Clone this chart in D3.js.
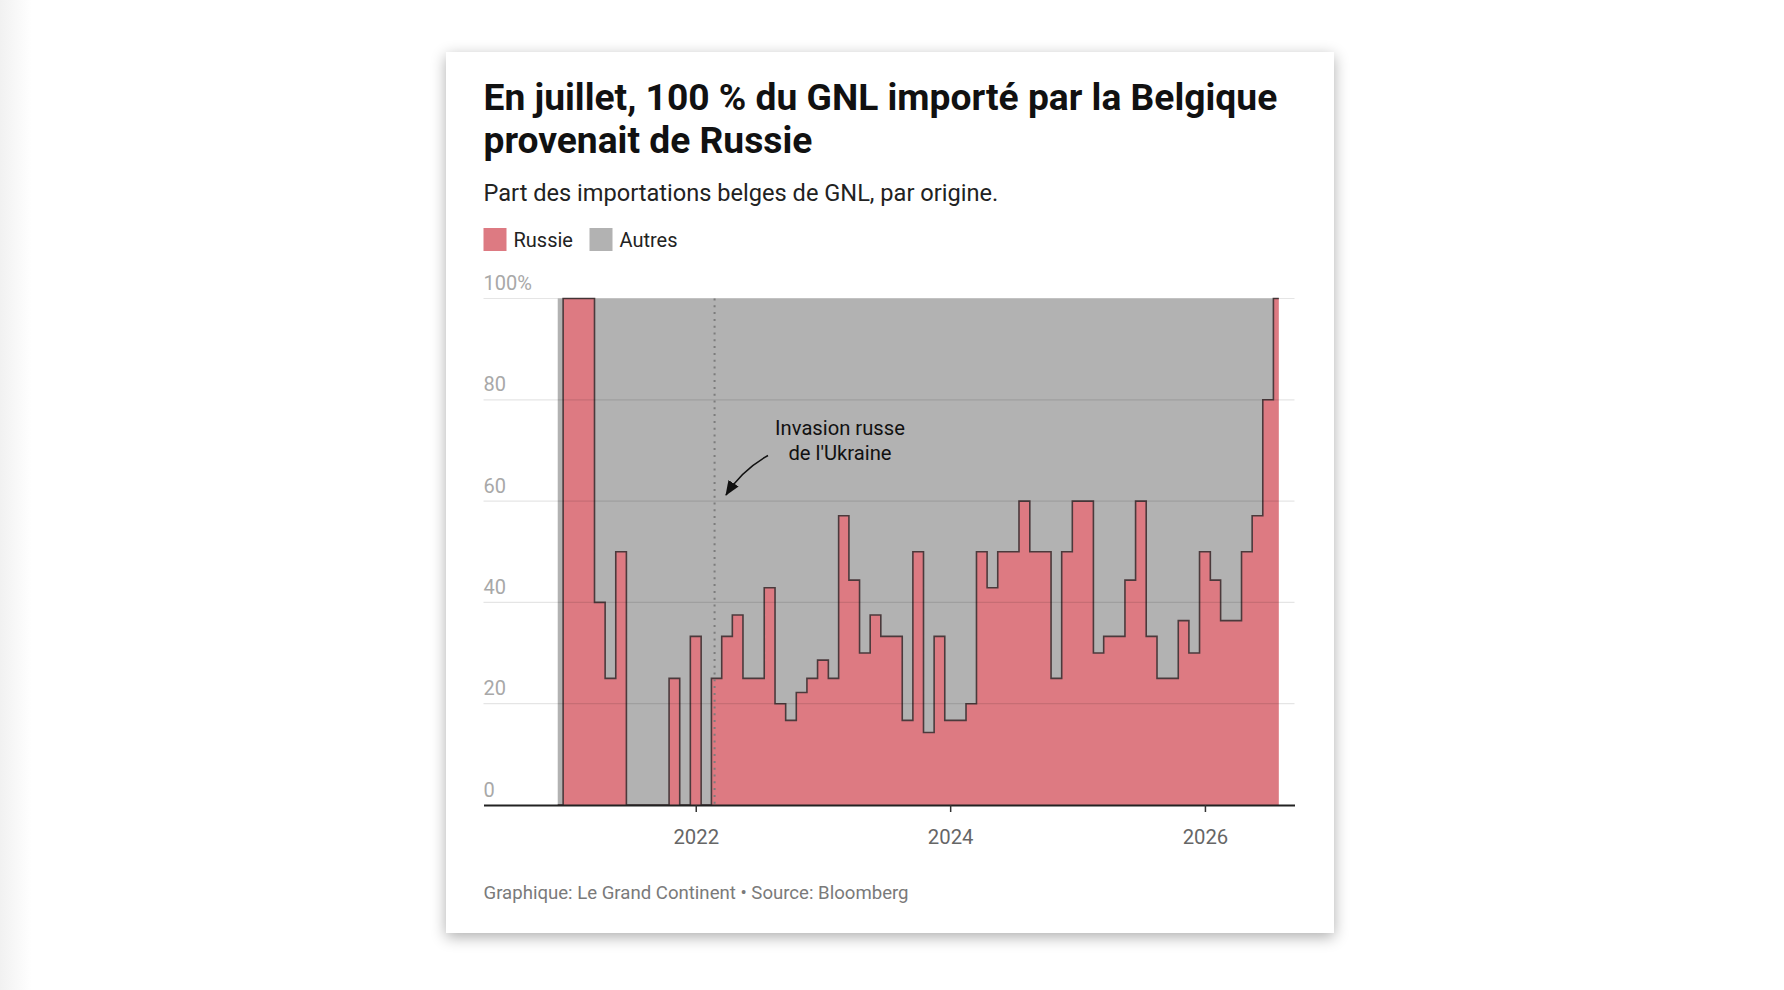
<!DOCTYPE html>
<html>
<head>
<meta charset="utf-8">
<script src="https://cdn.jsdelivr.net/npm/d3@7"></script>
<style>
  html, body { margin: 0; padding: 0; }
  body {
    width: 1784px; height: 990px; overflow: hidden;
    background: linear-gradient(to right, #f1f1f1 0, #fff 32px);
    font-family: Roboto, "Noto Sans", sans-serif;
  }
  #card {
    position: absolute; left: 446px; top: 52px;
    width: 888px; height: 881px; background: #fff;
    box-shadow: 0 4px 14px rgba(0, 0, 0, 0.32);
  }
</style>
</head>
<body>
<div id="card"></div>
<script>
// mois (début de mois) et part de la Russie (%) dans les importations belges de GNL
const mois = [
  "2020-12",
  "2021-01","2021-02","2021-03","2021-04","2021-05","2021-06","2021-07","2021-08","2021-09","2021-10","2021-11","2021-12",
  "2022-01","2022-02","2022-03","2022-04","2022-05","2022-06","2022-07","2022-08","2022-09","2022-10","2022-11","2022-12",
  "2023-01","2023-02","2023-03","2023-04","2023-05","2023-06","2023-07","2023-08","2023-09","2023-10","2023-11","2023-12",
  "2024-01","2024-02","2024-03","2024-04","2024-05","2024-06","2024-07","2024-08","2024-09","2024-10","2024-11","2024-12",
  "2025-01","2025-02","2025-03","2025-04","2025-05","2025-06","2025-07","2025-08","2025-09","2025-10","2025-11","2025-12",
  "2026-01","2026-02","2026-03","2026-04","2026-05","2026-06","2026-07","2026-08"
];
const russie = [
  0,
  100, 100, 100, 40, 25, 50, 0, 0, 0, 0, 25, 0,
  33.3, 0, 25, 33.3, 37.5, 25, 25, 42.9, 20, 16.7, 22.2, 25,
  28.6, 25, 57.1, 44.4, 30, 37.5, 33.3, 33.3, 16.7, 50, 14.3, 33.3,
  16.7, 16.7, 20, 50, 42.9, 50, 50, 60, 50, 50, 25, 50,
  60, 60, 30, 33.3, 33.3, 44.4, 60, 33.3, 25, 25, 36.4, 30,
  50, 44.4, 36.4, 36.4, 50, 57.1, 80, 100
];
const series = ["Russie", "Autres"];
const couleurs = ["#dd7a82", "#b2b2b2"];
const yTicks = [0, 20, 40, 60, 80, 100];
const xTicks = ["2022-01-01", "2024-01-01", "2026-01-01"];
const xDomaine = ["2020-05-02", "2026-09-15"];
const invasion = "2022-02-24";

const W = 888, H = 881;
const mLeft = 37.5, mRight = 848.5, mTop = 246.5, mBottom = 753;

const parseMois = d3.timeParse("%Y-%m");
const parseJour = d3.timeParse("%Y-%m-%d");

const table = mois.map((m, i) => ({
  date: parseMois(m),
  Russie: russie[i],
  Autres: 100 - russie[i]
}));

const x = d3.scaleTime().domain(xDomaine.map(parseJour)).range([mLeft, mRight]);
const y = d3.scaleLinear().domain([0, 100]).range([mBottom, mTop]);

const svg = d3.select("#card").append("svg")
  .attr("width", W)
  .attr("height", H)
  .style("display", "block");

// titre, sous-titre
const titre = svg.append("text")
  .attr("font-size", 37.2)
  .attr("font-weight", 700)
  .attr("fill", "#111");
titre.append("tspan").attr("x", mLeft).attr("y", 58).text("En juillet, 100 % du GNL importé par la Belgique");
titre.append("tspan").attr("x", mLeft).attr("y", 101).text("provenait de Russie");

svg.append("text")
  .attr("x", mLeft).attr("y", 149)
  .attr("font-size", 23.6)
  .attr("fill", "#222")
  .text("Part des importations belges de GNL, par origine.");

// légende
const legende = svg.append("g").attr("transform", `translate(${mLeft},176)`);
const lx = [0, 106];
series.forEach((s, i) => {
  legende.append("rect")
    .attr("x", lx[i]).attr("y", 0)
    .attr("width", 23).attr("height", 23)
    .attr("fill", couleurs[i]);
  legende.append("text")
    .attr("x", lx[i] + 30).attr("y", 19)
    .attr("font-size", 20)
    .attr("fill", "#222")
    .text(s);
});

// aires empilées
const stack = d3.stack().keys(series)(table);

const area = d3.area()
  .curve(d3.curveStep)
  .x(d => x(d.data.date))
  .y0(d => y(d[0]))
  .y1(d => y(d[1]));

svg.append("g")
  .selectAll("path")
  .data(stack)
  .join("path")
  .attr("fill", (d, i) => couleurs[i])
  .attr("d", area);

svg.append("path")
  .datum(table)
  .attr("fill", "none")
  .attr("stroke", "#4b3a3c")
  .attr("stroke-width", 1.6)
  .attr("d", d3.line().curve(d3.curveStep).x(d => x(d.date)).y(d => y(d.Russie)));

// grille
svg.append("g")
  .selectAll("line")
  .data(yTicks.filter(v => v > 0))
  .join("line")
  .attr("x1", mLeft).attr("x2", mRight)
  .attr("y1", d => y(d)).attr("y2", d => y(d))
  .attr("stroke", "rgba(0,0,0,0.1)")
  .attr("stroke-width", 1.2);

svg.append("g")
  .selectAll("text")
  .data(yTicks)
  .join("text")
  .attr("x", mLeft)
  .attr("y", d => y(d) - 8.5)
  .attr("font-size", 20)
  .attr("fill", "#a8a8a8")
  .text(d => d === 100 ? "100%" : d);

// invasion
const xi = x(parseJour(invasion));
svg.append("line")
  .attr("x1", xi).attr("x2", xi)
  .attr("y1", y(100)).attr("y2", y(0))
  .attr("stroke", "#7c7c7c")
  .attr("stroke-width", 2)
  .attr("stroke-dasharray", "2,4.8");

svg.append("defs").append("marker")
  .attr("id", "fleche")
  .attr("viewBox", "0 0 15 12")
  .attr("markerWidth", 15).attr("markerHeight", 12)
  .attr("markerUnits", "userSpaceOnUse")
  .attr("refX", 14).attr("refY", 6)
  .attr("orient", "auto")
  .append("path")
  .attr("d", "M0,0L15,6L0,12Z")
  .attr("fill", "#111");

svg.append("path")
  .attr("d", "M322,403.5Q296,418 280,443")
  .attr("fill", "none")
  .attr("stroke", "#111")
  .attr("stroke-width", 1.6)
  .attr("marker-end", "url(#fleche)");

const note = svg.append("text")
  .attr("text-anchor", "middle")
  .attr("font-size", 20.2)
  .attr("fill", "#111");
note.append("tspan").attr("x", 394).attr("y", 383).text("Invasion russe");
note.append("tspan").attr("x", 394).attr("y", 408).text("de l'Ukraine");

// axe x
const axeX = svg.append("g")
  .attr("transform", `translate(0,${mBottom})`)
  .call(d3.axisBottom(x)
    .tickValues(xTicks.map(parseJour))
    .tickFormat(d3.timeFormat("%Y"))
    .tickSize(7)
    .tickSizeOuter(0)
    .tickPadding(18));
axeX.select(".domain").attr("stroke", "#222").attr("stroke-width", 2);
axeX.selectAll(".tick line").attr("stroke", "#333").attr("stroke-width", 1.5);
axeX.selectAll(".tick text")
  .attr("font-family", "Roboto, sans-serif")
  .attr("font-size", 20.3)
  .attr("fill", "#666");

// source
svg.append("text")
  .attr("x", mLeft).attr("y", 846.5)
  .attr("font-size", 18.6)
  .attr("fill", "#7a7a7a")
  .text("Graphique: Le Grand Continent • Source: Bloomberg");
</script>
</body>
</html>
